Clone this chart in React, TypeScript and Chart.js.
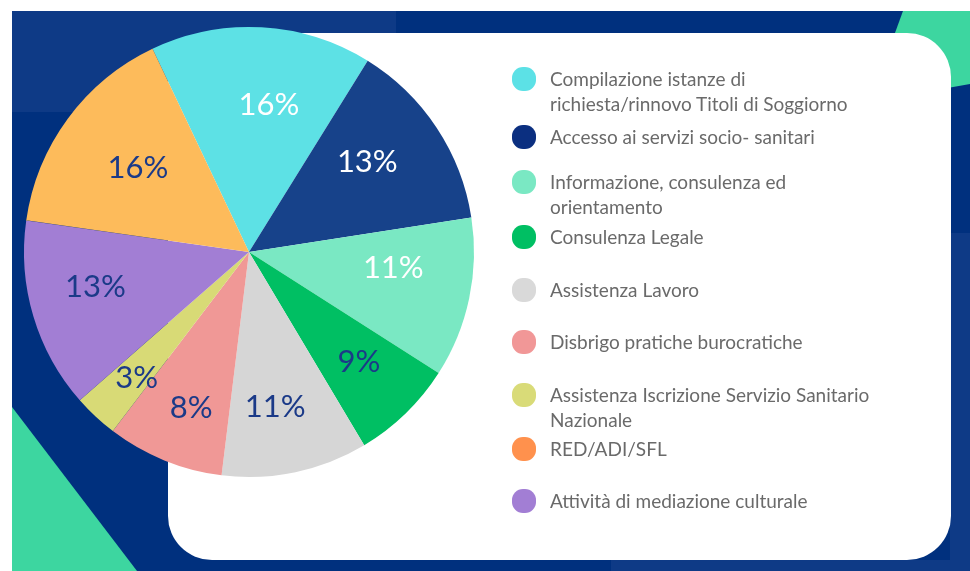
import React, { useEffect, useRef } from "react";
import { Chart, registerables } from "chart.js";

Chart.register(...registerables);

// Pie order (clockwise from top)
const categories = [
  "Compilazione istanze di\nrichiesta/rinnovo Titoli di Soggiorno",
  "Accesso ai servizi socio- sanitari",
  "Informazione, consulenza ed\norientamento",
  "Consulenza Legale",
  "Assistenza Lavoro",
  "Disbrigo pratiche burocratiche",
  "Assistenza Iscrizione Servizio Sanitario\nNazionale",
  "Attività di mediazione culturale",
  "RED/ADI/SFL",
];
// slice shares
const shares = [15.9, 13.7, 11.5, 7.4, 10.5, 8.4, 3.2, 13.7, 15.7];
// printed labels
const percentLabels = ["16%", "13%", "11%", "9%", "11%", "8%", "3%", "13%", "16%"];
// legend order (indexes into categories)
const legendOrder = [0, 1, 2, 3, 4, 5, 6, 8, 7];

const sliceColors = ["#5de1e5", "#17428a", "#7ae8c3", "#00bf63", "#d6d6d6", "#f09896", "#d8da76", "#a27ed4", "#fdbb5b"];
const dotColors = ["#5ce1e6", "#0b2f80", "#7ae8c3", "#00bf63", "#d9d9d9", "#f19797", "#d9db78", "#a27ed4", "#ff914d"];
const labelColors = ["#ffffff", "#ffffff", "#ffffff", "#1b3a88", "#1b3a88", "#1b3a88", "#1b3a88", "#1b3a88", "#1b3a88"];

const W = 970;
const H = 571;

// label placement (style): radius fraction and angular nudge in degrees per slice
const LABEL_PLACE = [
  { r: 0.66, da: 4.5 },
  { r: 0.66, da: -3.7 },
  { r: 0.645, da: -5.7 },
  { r: 0.69, da: -0.9 },
  { r: 0.7, da: 2.3 },
  { r: 0.74, da: -1.8 },
  { r: 0.75, da: -1.3 },
  { r: 0.7, da: 3.8 },
  { r: 0.62, da: 0.9 },
];
// legend row centers (layout)
const LEGEND_Y = [79, 137, 182, 237, 290, 342, 395, 449, 501];

const backgroundPlugin = {
  id: "bgDeco",
  beforeDraw(chart: any) {
    const ctx = chart.ctx as CanvasRenderingContext2D;
    ctx.save();
    ctx.fillStyle = "#ffffff";
    ctx.fillRect(0, 0, W, H);
    ctx.fillStyle = "#00307e";
    ctx.fillRect(12, 11, W - 12, H - 11);
    ctx.fillStyle = "#0e3a86";
    ctx.fillRect(12, 11, 384, 101);
    ctx.fillRect(611, 560, W - 611, H - 560);
    ctx.fillRect(950, 233, 20, 340);
    ctx.fillStyle = "#3dd6a0";
    ctx.beginPath();
    ctx.moveTo(903, 11);
    ctx.lineTo(970, 11);
    ctx.lineTo(970, 84);
    ctx.lineTo(880, 100);
    ctx.lineTo(880, 74);
    ctx.closePath();
    ctx.fill();
    ctx.beginPath();
    ctx.moveTo(12, 407);
    ctx.lineTo(137, 571);
    ctx.lineTo(12, 571);
    ctx.closePath();
    ctx.fill();
    ctx.fillStyle = "#ffffff";
    ctx.beginPath();
    (ctx as any).roundRect(168, 33, 951 - 168, 560 - 33, 44);
    ctx.fill();
    ctx.restore();
  },
};

const labelPlugin = {
  id: "sliceLabels",
  afterDatasetsDraw(chart: any) {
    const ctx = chart.ctx as CanvasRenderingContext2D;
    const meta = chart.getDatasetMeta(0);
    ctx.save();
    ctx.font = "400 31px Lato, 'Noto Sans', sans-serif";
    ctx.textAlign = "center";
    ctx.textBaseline = "middle";
    meta.data.forEach((arc: any, i: number) => {
      const p = arc.getProps(["x", "y", "startAngle", "endAngle", "outerRadius"], true);
      const place = LABEL_PLACE[i];
      const mid = (p.startAngle + p.endAngle) / 2 + (place.da * Math.PI) / 180;
      const r = p.outerRadius * place.r;
      ctx.fillStyle = labelColors[i];
      ctx.fillText(percentLabels[i], p.x + Math.cos(mid) * r, p.y + Math.sin(mid) * r);
    });
    ctx.restore();
  },
};

export default function App() {
  const ref = useRef<HTMLCanvasElement | null>(null);

  useEffect(() => {
    if (!ref.current) return;
    const chart = new Chart(ref.current, {
      type: "pie",
      data: {
        labels: categories,
        datasets: [
          {
            data: shares,
            backgroundColor: sliceColors,
            borderWidth: 0,
          },
        ],
      },
      options: {
        responsive: false,
        animation: false,
        rotation: -25.4,
        layout: { padding: { left: 24, right: 496, top: 27, bottom: 94 } },
        plugins: {
          legend: { display: false },
          tooltip: { enabled: false },
        },
      },
      plugins: [backgroundPlugin, labelPlugin],
    });
    return () => chart.destroy();
  }, []);

  return (
    <div style={{ position: "fixed", left: 0, top: 0, width: W, height: H, overflow: "hidden", background: "#fff" }}>
      <canvas ref={ref} width={W} height={H} style={{ position: "absolute", left: 0, top: 0, width: W, height: H }} />
      {legendOrder.map((idx, k) => (
        <div
          key={idx}
          style={{
            position: "absolute",
            left: 512,
            top: LEGEND_Y[k] - 12,
            display: "flex",
            alignItems: "flex-start",
          }}
        >
          <div
            style={{
              width: 24,
              height: 24,
              borderRadius: 11,
              background: dotColors[idx],
              flex: "0 0 auto",
            }}
          />
          <div
            style={{
              marginLeft: 14,
              fontFamily: "Lato, 'Noto Sans', sans-serif",
              fontSize: 19,
              lineHeight: "25px",
              marginTop: -1,
              color: "#6a6a6a",
              whiteSpace: "pre-line",
            }}
          >
            {categories[idx]}
          </div>
        </div>
      ))}
    </div>
  );
}
